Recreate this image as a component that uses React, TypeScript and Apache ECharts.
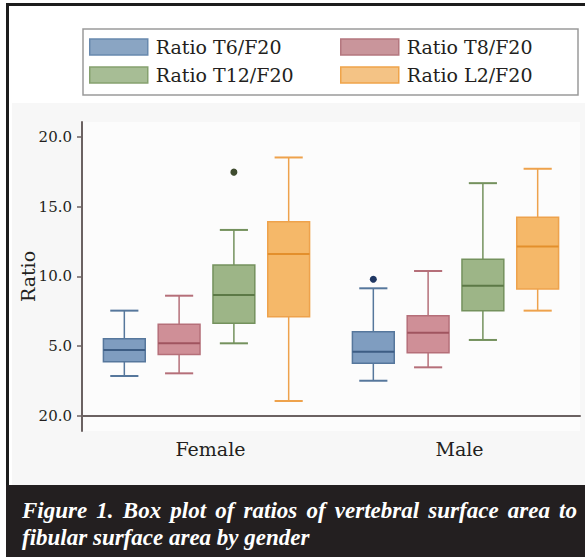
import React, { useEffect, useRef } from 'react';
import * as echarts from 'echarts';

// ---------- data ----------
const categories = ['Female', 'Male'];
const seriesNames = ['Ratio T6/F20', 'Ratio T8/F20', 'Ratio T12/F20', 'Ratio L2/F20'];
// [min, Q1, median, Q3, max] for Female, Male
const t6Values = [
  [2.87, 3.89, 4.73, 5.54, 7.55],
  [2.53, 3.78, 4.61, 6.04, 9.15],
];
const t8Values = [
  [3.06, 4.4, 5.21, 6.57, 8.62],
  [3.49, 4.54, 5.97, 7.19, 10.39],
];
const t12Values = [
  [5.21, 6.64, 8.67, 10.82, 13.33],
  [5.45, 7.55, 9.34, 11.23, 16.68],
];
const l2Values = [
  [1.08, 7.12, 11.61, 13.91, 18.52],
  [7.55, 9.1, 12.14, 14.24, 17.71],
];
// outliers: [categoryIndex, value]
const t6Outliers = [[1, 9.8]];
const t8Outliers: number[][] = [];
const t12Outliers = [[0, 17.47]];
const l2Outliers: number[][] = [];

const tickValues = [0, 5, 10, 15, 20];
const tickLabels = ['20.0', '5.0', '10.0', '15.0', '20.0'];
const yAxisName = 'Ratio';
const captionLine1 = 'Figure 1. Box plot of ratios of vertebral surface area to';
const captionLine2 = 'fibular surface area by gender';

// ---------- styles ----------
const palette = [
  { fill: '#7f9dc0', border: '#56779c', median: '#3d5d84', dot: '#1f3763', lFill: '#8aa5c3', lBorder: '#6889ae' },
  { fill: '#cf8f97', border: '#b56f79', median: '#a0545f', dot: '#7a2f38', lFill: '#c9959b', lBorder: '#b4777f' },
  { fill: '#9db587', border: '#74915d', median: '#5c7946', dot: '#3f4c2f', lFill: '#a7bd95', lBorder: '#86a16f' },
  { fill: '#f5b869', border: '#eea24c', median: '#e38f2c', dot: '#b56b10', lFill: '#f4c385', lBorder: '#efa44a' },
];
const PITCH = 0.22;
const BOXW = 0.168;
const CAPW = 0.113;
const SERIF = "'DejaVu Serif', serif";
const CAPTION_SIZE = 23;
const CAPTION_FONT = `italic bold ${CAPTION_SIZE}px 'Liberation Serif'`;

const allValues = [t6Values, t8Values, t12Values, l2Values];
const allOutliers = [t6Outliers, t8Outliers, t12Outliers, l2Outliers];

function makeBoxRender(k: number) {
  const c = palette[k];
  return (params: any, api: any) => {
    const cat = api.value(0);
    const bw = api.size([1, 0])[0];
    const cx = api.coord([cat, 0])[0] + (k - 1.5) * PITCH * bw;
    const y = (i: number) => api.coord([cat, api.value(i)])[1];
    const yMin = y(1), yQ1 = y(2), yMed = y(3), yQ3 = y(4), yMax = y(5);
    const h = (BOXW * bw) / 2;
    const ch = (CAPW * bw) / 2;
    const ls = { stroke: c.border, lineWidth: 1.5 };
    return {
      type: 'group',
      children: [
        { type: 'line', shape: { x1: cx, y1: yMax, x2: cx, y2: yQ3 }, style: ls },
        { type: 'line', shape: { x1: cx, y1: yQ1, x2: cx, y2: yMin }, style: ls },
        { type: 'line', shape: { x1: cx - ch, y1: yMax, x2: cx + ch, y2: yMax }, style: { stroke: c.border, lineWidth: 2 } },
        { type: 'line', shape: { x1: cx - ch, y1: yMin, x2: cx + ch, y2: yMin }, style: { stroke: c.border, lineWidth: 2 } },
        {
          type: 'rect',
          shape: { x: cx - h, y: yQ3, width: 2 * h, height: yQ1 - yQ3 },
          style: { fill: c.fill, stroke: c.border, lineWidth: 1.5 },
        },
        { type: 'line', shape: { x1: cx - h, y1: yMed, x2: cx + h, y2: yMed }, style: { stroke: c.median, lineWidth: 2 } },
      ],
    };
  };
}

function makeOutlierRender(k: number) {
  const c = palette[k];
  return (params: any, api: any) => {
    const cat = api.value(0);
    const bw = api.size([1, 0])[0];
    const p = api.coord([cat, api.value(1)]);
    const cx = p[0] + (k - 1.5) * PITCH * bw;
    return { type: 'circle', shape: { cx, cy: p[1], r: 3.5 }, style: { fill: c.dot } };
  };
}

function captionGraphics() {
  const canvas = document.createElement('canvas');
  const ctx = canvas.getContext('2d')!;
  ctx.font = CAPTION_FONT;
  const words = captionLine1.split(' ');
  const widths = words.map((w) => ctx.measureText(w).width);
  const total = widths.reduce((a, b) => a + b, 0);
  const x0 = 22;
  const x1 = 577;
  const gap = (x1 - x0 - total) / (words.length - 1);
  const els: any[] = [];
  let x = x0;
  const textStyle = (t: string, xx: number, yy: number) => ({
    type: 'text',
    x: xx,
    y: yy,
    z: 101,
    style: {
      text: t,
      fill: '#ffffff',
      fontFamily: 'Liberation Serif',
      fontStyle: 'italic',
      fontWeight: 'bold',
      fontSize: CAPTION_SIZE,
      verticalAlign: 'middle',
      align: 'left',
    },
  });
  words.forEach((w, i) => {
    els.push(textStyle(w, x, 510));
    x += widths[i] + gap;
  });
  els.push(textStyle(captionLine2, x0, 537));
  return els;
}

export default function App() {
  const ref = useRef<HTMLDivElement>(null);
  useEffect(() => {
    if (!ref.current) return;
    const chart = echarts.init(ref.current, undefined, { renderer: 'svg' });
    const series: any[] = [];
    for (let k = 0; k < 4; k++) {
      series.push({
        type: 'custom',
        name: seriesNames[k],
        renderItem: makeBoxRender(k),
        encode: { x: 0, y: [1, 2, 3, 4, 5] },
        itemStyle: { color: palette[k].lFill, borderColor: palette[k].lBorder },
        data: allValues[k].map((v, i) => [i, ...v]),
        z: 3,
      });
      series.push({
        type: 'custom',
        name: seriesNames[k],
        renderItem: makeOutlierRender(k),
        encode: { x: 0, y: 1 },
        itemStyle: { color: palette[k].lFill },
        data: allOutliers[k],
        z: 4,
      });
    }
    const legendItem = (k: number) => ({
      name: seriesNames[k],
      icon: 'rect',
      itemStyle: { color: palette[k].lFill, borderColor: palette[k].lBorder, borderWidth: 1.5 },
    });
    const legendCommon = {
      orient: 'vertical',
      top: 37.5,
      padding: 0,
      itemWidth: 58,
      itemHeight: 16,
      itemGap: 9,
      selectedMode: false,
      textStyle: { fontFamily: SERIF, fontSize: 19, color: '#231f20', padding: [0, 0, 0, 3] },
    };
    chart.setOption({
      animation: false,
      backgroundColor: '#ffffff',
      graphic: [
        { type: 'rect', z: -5, shape: { x: 7.5, y: 4.5, width: 700, height: 700 }, style: { fill: '#ffffff', stroke: '#1c1c1c', lineWidth: 3 } },
        { type: 'rect', z: -4, shape: { x: 12, y: 103, width: 580, height: 382 }, style: { fill: '#f7f7f7' } },
        { type: 'rect', z: -4, shape: { x: 83, y: 29, width: 495, height: 66 }, style: { fill: '#ffffff', stroke: '#9a9a9a', lineWidth: 1.5 } },
        { type: 'rect', z: 100, shape: { x: 6, y: 485, width: 600, height: 80 }, style: { fill: '#231f20' } },
        ...captionGraphics(),
      ],
      legend: [
        { ...legendCommon, left: 89, data: [legendItem(0), legendItem(2)] },
        { ...legendCommon, left: 340, data: [legendItem(1), legendItem(3)] },
      ],
      grid: {
        left: 82,
        right: 5,
        top: 122,
        bottom: 126,
        show: true,
        backgroundColor: '#fcfcfc',
        borderWidth: 0,
      },
      xAxis: {
        type: 'category',
        data: categories,
        axisLine: { lineStyle: { color: '#6b6262', width: 2 } },
        axisTick: { show: false },
        axisLabel: { fontFamily: SERIF, fontSize: 19, color: '#231f20', margin: 8, padding: [0, 0, 0, 8] },
        splitLine: { show: false },
      },
      yAxis: {
        type: 'value',
        min: -1.07,
        max: 21.06,
        name: yAxisName,
        nameLocation: 'middle',
        nameRotate: 90,
        nameGap: 45,
        nameMoveOverlap: false,
        nameTextStyle: { fontFamily: SERIF, fontSize: 19, color: '#231f20' },
        axisLine: { show: true, lineStyle: { color: '#6b6262', width: 2 } },
        axisTick: { show: true, length: 5, customValues: tickValues, lineStyle: { color: '#6b6262', width: 1.5 } },
        axisLabel: {
          customValues: tickValues,
          fontFamily: SERIF,
          fontSize: 15,
          color: '#231f20',
          margin: 10,
          formatter: (v: number) => {
            const i = tickValues.indexOf(v);
            return i >= 0 ? tickLabels[i] : '';
          },
        },
        splitLine: { show: false },
      },
      series,
    });
    return () => chart.dispose();
  }, []);
  return <div ref={ref} style={{ position: 'absolute', left: 0, top: 0, width: 585, height: 557 }} />;
}
